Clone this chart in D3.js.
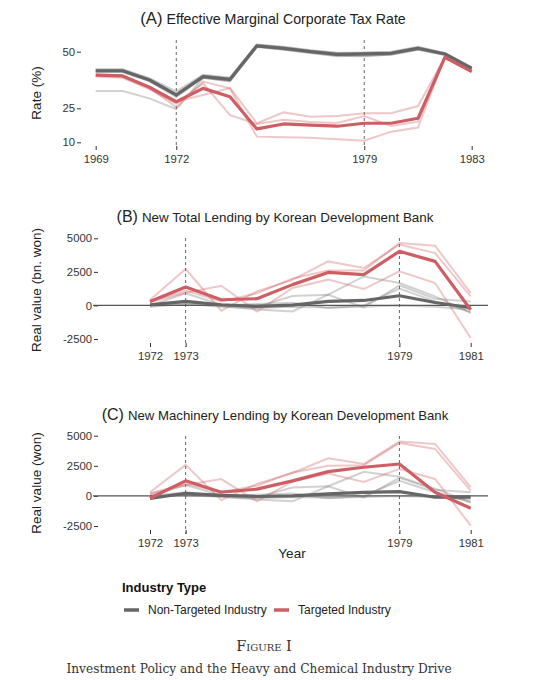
<!DOCTYPE html>
<html><head><meta charset="utf-8">
<script src="https://cdn.jsdelivr.net/npm/d3@7"></script>
<style>body{margin:0;background:#fff}svg{display:block}</style>
</head><body>
<svg id="c" width="540" height="680"></svg>
<script>
// ---------- DATA ----------
const yearsA = [1969,1970,1971,1972,1973,1974,1975,1976,1977,1978,1979,1980,1981,1982,1983];
const taxNonTargetedMean = [41.6,41.6,37.5,30.9,39,37.8,52.6,51.5,50,48.8,49,49.3,51.5,49,42.6];
const taxTargetedMean    = [39.7,39.3,34.3,27.9,33.8,30.1,15.9,18.1,17.6,17.1,18.4,18.4,20.6,47.5,41.2];
const taxNonTargetedInd = [
  [32.6,32.6,29.4,24.6,38.5,37,52.5,51.5,50,48.5,48.5,49,51.5,49,42.5],
  [42.3,42.3,38.3,32.5,39.8,38.6,53,52,50.5,49.3,49.5,49.8,52,49.3,43],
  [41,41,37,30,38.5,37,52.2,51,49.5,48.2,48,48.8,51,48.7,42],
  [42,42,38,31.5,39.5,38.2,53.2,52.2,50.6,49.5,49.6,50,52.2,49.5,43.2],
  [41.2,41.2,37.2,30.4,38.7,37.3,52.1,50.9,49.4,48,48.2,48.7,50.9,48.5,42.1]
];
const taxTargetedInd = [
  [39.5,39.5,34,25.5,36.8,33.8,12.5,12.2,12,11.3,10.7,14.7,16.5,47.5,41.2],
  [40,39.5,34.5,28,30.9,34,18.4,23.2,21.3,21.6,22.8,22.8,26,47.5,41.2],
  [39,38.5,33.5,27,36,22,18.1,19.9,19,18.5,21.6,17.2,19.1,47.5,41.2]
];
const taxTicks = [10,25,50];
const taxYearTicks = [1969,1972,1979,1983];

const yearsB = [1972,1973,1974,1975,1976,1977,1978,1979,1980,1981];
const totalNonTargetedMean = [50,300,50,-75,25,300,370,720,220,-170];
const totalTargetedMean    = [300,1370,425,500,1550,2460,2290,4030,3280,-320];
const totalNonTargetedInd = [
  [0,900,50,-100,700,800,-150,1500,500,300],
  [-50,150,-50,-300,-450,800,2160,1670,670,-550],
  [0,300,0,100,200,-200,0,1250,300,-500],
  [-100,100,-100,-200,-100,-150,-100,0,-100,-300]
];
const totalTargetedInd = [
  [400,2715,-395,1045,1900,3280,2790,4530,3900,670],
  [250,950,1470,-450,1300,1920,1220,2540,1670,-2430],
  [300,1100,300,900,2000,2600,2600,4650,4450,925]
];
const lendTicks = [-2500,0,2500,5000];
const lendYearTicks = [1972,1973,1979,1981];

const machNonTargetedMean = [-200,220,50,-50,0,165,300,360,-110,-110];
const machTargetedMean    = [-190,1250,310,560,1250,2020,2380,2650,300,-1020];
const machNonTargetedInd = [
  [0,900,50,-100,700,800,-150,1500,500,300],
  [-50,150,-50,-300,-450,800,2000,1600,600,-550],
  [0,300,0,100,200,-200,0,1250,300,-500],
  [-100,100,-100,-200,-100,-150,-100,0,-100,-300]
];
const machTargetedInd = [
  [300,2580,-350,1000,1900,3130,2650,4510,4320,720],
  [150,900,1400,-450,1200,1850,1150,2240,1410,-2460],
  [200,1000,300,850,1950,2500,2550,4400,3900,440]
];

const legendLabels = ["Non-Targeted Industry","Targeted Industry"];

// ---------- STYLE ----------
const RED = "#cd5f64", GRAY = "#666666";
const svg = d3.select("#c");
const FONT = "Liberation Sans, Arial, sans-serif";
const plainFmt = d => String(d);

function panel(o){
  const g = svg.append("g");
  const x = d3.scaleLinear().domain(o.xDom).range(o.xRange);
  const y = d3.scaleLinear().domain(o.yDom).range(o.yRange);
  const line = d3.line().x((d,i)=>x(o.years[i])).y(d=>y(d));
  // title
  const t = g.append("text").attr("x",o.titleX).attr("y",o.titleY)
    .attr("text-anchor","middle").attr("font-family",FONT).attr("fill","#222");
  t.append("tspan").attr("font-size",o.letterSize).text(o.letter);
  t.append("tspan").attr("font-size",o.titleSize).attr("dx",4).text(o.title);
  // y title
  g.append("text").attr("transform",`translate(${o.yTitleX},${o.yTitleY}) rotate(-90)`)
    .attr("text-anchor","middle").attr("font-family",FONT).attr("font-size",13.5).attr("fill","#222")
    .text(o.yTitle);
  // y axis
  const ya = d3.axisLeft(y).tickValues(o.yTicks).tickFormat(plainFmt).tickSize(4).tickPadding(2);
  const yg = g.append("g").attr("transform",`translate(${o.yAxisX},0)`).call(ya);
  yg.select(".domain").remove();
  yg.selectAll("text").attr("font-family",FONT).attr("font-size",11.3).attr("fill","#333");
  yg.selectAll("line").attr("stroke","#333");
  // x axis
  const xa = d3.axisBottom(x).tickValues(o.xTicks).tickFormat(plainFmt).tickSize(4).tickPadding(5);
  const xg = g.append("g").attr("transform",`translate(0,${o.xAxisY})`).call(xa);
  xg.select(".domain").remove();
  xg.selectAll("text").attr("font-family",FONT).attr("font-size",11.3).attr("fill","#333");
  xg.selectAll("line").attr("stroke","#333");
  // zero line
  if(o.zero){
    g.append("line").attr("x1",o.panelX[0]).attr("x2",o.panelX[1])
      .attr("y1",y(0)).attr("y2",y(0)).attr("stroke","#555").attr("stroke-width",1.2);
  }
  // dashed lines
  o.dashed.forEach(v=>{
    g.append("line").attr("x1",x(v)).attr("x2",x(v)).attr("y1",o.dashY[0]).attr("y2",o.dashY[1])
      .attr("stroke","#555").attr("stroke-width",0.9).attr("stroke-dasharray","3,3");
  });
  // individual lines
  o.grayInd.forEach(s=>g.append("path").attr("d",line(s)).attr("fill","none")
    .attr("stroke",GRAY).attr("stroke-opacity",0.3).attr("stroke-width",2));
  o.redInd.forEach(s=>g.append("path").attr("d",line(s)).attr("fill","none")
    .attr("stroke",RED).attr("stroke-opacity",0.35).attr("stroke-width",2));
  // means
  g.append("path").attr("d",line(o.grayMean)).attr("fill","none")
    .attr("stroke",GRAY).attr("stroke-width",3.2).attr("stroke-linejoin","round");
  g.append("path").attr("d",line(o.redMean)).attr("fill","none")
    .attr("stroke",RED).attr("stroke-width",3.2).attr("stroke-linejoin","round");
  if(o.xTitle){
    g.append("text").attr("x",o.xTitleX).attr("y",o.xTitleY).attr("text-anchor","middle")
      .attr("font-family",FONT).attr("font-size",13.5).attr("fill","#222").text(o.xTitle);
  }
}

panel({
  letter:"(A)", title:"Effective Marginal Corporate Tax Rate", titleX:273, titleY:24,
  letterSize:16.7, titleSize:14.2,
  yTitle:"Rate (%)", yTitleX:41, yTitleY:93,
  years:yearsA, xDom:[1969,1983], xRange:[95.7,471.7],
  yDom:[10,50], yRange:[142.3,51.7], yTicks:taxTicks, yAxisX:81,
  xTicks:taxYearTicks, xAxisY:146, dashed:[1972,1979], dashY:[40,146],
  grayInd:taxNonTargetedInd, redInd:taxTargetedInd,
  grayMean:taxNonTargetedMean, redMean:taxTargetedMean, zero:false
});
panel({
  letter:"(B)", title:"New Total Lending by Korean Development Bank", titleX:275, titleY:222,
  letterSize:16, titleSize:13.4,
  yTitle:"Real value (bn. won)", yTitleX:41, yTitleY:290,
  years:yearsB, xDom:[1972,1981], xRange:[150,470.7],
  yDom:[-2500,5000], yRange:[339,238.3], yTicks:lendTicks, yAxisX:98,
  xTicks:lendYearTicks, xAxisY:343, dashed:[1973,1979], dashY:[238,347],
  grayInd:totalNonTargetedInd, redInd:totalTargetedInd,
  grayMean:totalNonTargetedMean, redMean:totalTargetedMean, zero:true, panelX:[93,488]
});
panel({
  letter:"(C)", title:"New Machinery Lending by Korean Development Bank", titleX:275, titleY:420,
  letterSize:16, titleSize:13.2,
  yTitle:"Real value (won)", yTitleX:41, yTitleY:483,
  years:yearsB, xDom:[1972,1981], xRange:[150,470.7],
  yDom:[-2500,5000], yRange:[526,435.7], yTicks:lendTicks, yAxisX:98,
  xTicks:lendYearTicks, xAxisY:530, dashed:[1973,1979], dashY:[436,534],
  grayInd:machNonTargetedInd, redInd:machTargetedInd,
  grayMean:machNonTargetedMean, redMean:machTargetedMean, zero:true, panelX:[93,488],
  xTitle:"Year", xTitleX:292, xTitleY:558
});

// legend
const lg = svg.append("g");
lg.append("text").attr("x",122).attr("y",592).attr("font-family",FONT).attr("font-size",13)
  .attr("font-weight","bold").attr("fill","#111").text("Industry Type");
const legColors=[GRAY,RED], legX=[124,274];
legendLabels.forEach((l,i)=>{
  lg.append("line").attr("x1",legX[i]).attr("x2",legX[i]+15).attr("y1",610).attr("y2",610)
    .attr("stroke",legColors[i]).attr("stroke-width",3.5);
  lg.append("text").attr("x",legX[i]+24).attr("y",614).attr("font-family",FONT).attr("font-size",12)
    .attr("fill","#222").text(l);
});
// caption
svg.append("text").attr("x",264).attr("y",651).attr("text-anchor","middle")
  .attr("font-family","DejaVu Serif, serif").attr("font-size",14.5).attr("font-variant","small-caps")
  .attr("fill","#333").text("Figure I");
svg.append("text").attr("x",259).attr("y",673).attr("text-anchor","middle")
  .attr("font-family","DejaVu Serif, serif").attr("font-size",12.2)
  .attr("fill","#333").text("Investment Policy and the Heavy and Chemical Industry Drive");
</script>
</body></html>
